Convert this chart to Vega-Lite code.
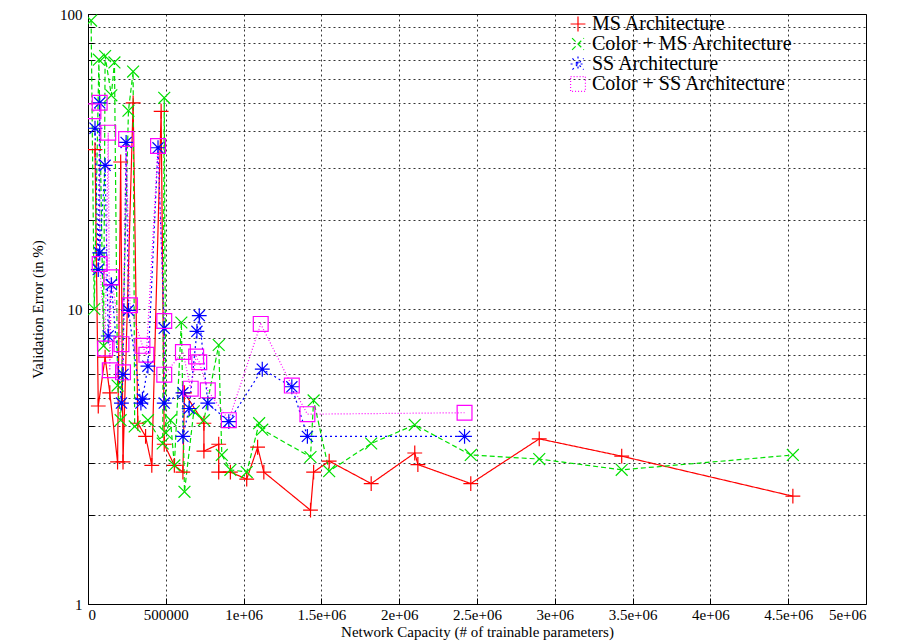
{
  "$schema": "https://vega.github.io/schema/vega-lite/v6.json",
  "width": 778,
  "height": 590,
  "autosize": "none",
  "padding": {"left": 88, "top": 14, "right": 34, "bottom": 37},
  "background": "white",
  "data": {"values": [
    {"s":"MS Architecture","x":0.045,"y":34.7},{"s":"MS Architecture","x":0.066,"y":4.69},{"s":"MS Architecture","x":0.11,"y":6.87},{"s":"MS Architecture","x":0.14,"y":5.2},{"s":"MS Architecture","x":0.19,"y":3.03},{"s":"MS Architecture","x":0.21,"y":31.5},{"s":"MS Architecture","x":0.225,"y":3.03},{"s":"MS Architecture","x":0.29,"y":50},{"s":"MS Architecture","x":0.32,"y":4.1},{"s":"MS Architecture","x":0.37,"y":3.7},{"s":"MS Architecture","x":0.41,"y":2.95},{"s":"MS Architecture","x":0.47,"y":46.8},{"s":"MS Architecture","x":0.49,"y":3.48},{"s":"MS Architecture","x":0.555,"y":2.95},{"s":"MS Architecture","x":0.61,"y":2.8},{"s":"MS Architecture","x":0.62,"y":5.2},{"s":"MS Architecture","x":0.745,"y":4.1},{"s":"MS Architecture","x":0.745,"y":3.3},{"s":"MS Architecture","x":0.84,"y":3.48},{"s":"MS Architecture","x":0.84,"y":2.8},{"s":"MS Architecture","x":0.915,"y":2.8},{"s":"MS Architecture","x":1.02,"y":2.65},{"s":"MS Architecture","x":1.09,"y":3.4},{"s":"MS Architecture","x":1.13,"y":2.8},{"s":"MS Architecture","x":1.43,"y":2.08},{"s":"MS Architecture","x":1.45,"y":2.8},{"s":"MS Architecture","x":1.55,"y":3.05},{"s":"MS Architecture","x":1.82,"y":2.56},{"s":"MS Architecture","x":2.1,"y":3.25},{"s":"MS Architecture","x":2.12,"y":2.97},{"s":"MS Architecture","x":2.46,"y":2.56},{"s":"MS Architecture","x":2.9,"y":3.63},{"s":"MS Architecture","x":3.43,"y":3.17},{"s":"MS Architecture","x":4.53,"y":2.32},
    {"s":"Color + MS Architecture","x":0.02,"y":95},{"s":"Color + MS Architecture","x":0.04,"y":10},{"s":"Color + MS Architecture","x":0.07,"y":70},{"s":"Color + MS Architecture","x":0.1,"y":7.5},{"s":"Color + MS Architecture","x":0.11,"y":72},{"s":"Color + MS Architecture","x":0.15,"y":53},{"s":"Color + MS Architecture","x":0.17,"y":68.5},{"s":"Color + MS Architecture","x":0.19,"y":5.5},{"s":"Color + MS Architecture","x":0.21,"y":4.2},{"s":"Color + MS Architecture","x":0.26,"y":47},{"s":"Color + MS Architecture","x":0.29,"y":63.8},{"s":"Color + MS Architecture","x":0.3,"y":4.0},{"s":"Color + MS Architecture","x":0.385,"y":4.2},{"s":"Color + MS Architecture","x":0.48,"y":3.5},{"s":"Color + MS Architecture","x":0.49,"y":52},{"s":"Color + MS Architecture","x":0.5,"y":3.8},{"s":"Color + MS Architecture","x":0.53,"y":4.2},{"s":"Color + MS Architecture","x":0.555,"y":2.95},{"s":"Color + MS Architecture","x":0.6,"y":9.0},{"s":"Color + MS Architecture","x":0.62,"y":2.4},{"s":"Color + MS Architecture","x":0.68,"y":4.5},{"s":"Color + MS Architecture","x":0.745,"y":4.2},{"s":"Color + MS Architecture","x":0.84,"y":7.55},{"s":"Color + MS Architecture","x":0.86,"y":3.2},{"s":"Color + MS Architecture","x":0.915,"y":2.85},{"s":"Color + MS Architecture","x":1.02,"y":2.8},{"s":"Color + MS Architecture","x":1.1,"y":4.1},{"s":"Color + MS Architecture","x":1.12,"y":3.9},{"s":"Color + MS Architecture","x":1.43,"y":3.15},{"s":"Color + MS Architecture","x":1.45,"y":4.9},{"s":"Color + MS Architecture","x":1.55,"y":2.82},{"s":"Color + MS Architecture","x":1.82,"y":3.5},{"s":"Color + MS Architecture","x":2.1,"y":4.05},{"s":"Color + MS Architecture","x":2.46,"y":3.2},{"s":"Color + MS Architecture","x":2.9,"y":3.1},{"s":"Color + MS Architecture","x":3.43,"y":2.85},{"s":"Color + MS Architecture","x":4.53,"y":3.2},
    {"s":"SS Architecture","x":0.045,"y":41},{"s":"SS Architecture","x":0.066,"y":13.6},{"s":"SS Architecture","x":0.075,"y":50},{"s":"SS Architecture","x":0.075,"y":15.5},{"s":"SS Architecture","x":0.11,"y":30.7},{"s":"SS Architecture","x":0.13,"y":8.1},{"s":"SS Architecture","x":0.15,"y":12.1},{"s":"SS Architecture","x":0.215,"y":4.8},{"s":"SS Architecture","x":0.225,"y":6.0},{"s":"SS Architecture","x":0.245,"y":36.7},{"s":"SS Architecture","x":0.26,"y":9.9},{"s":"SS Architecture","x":0.34,"y":4.8},{"s":"SS Architecture","x":0.35,"y":4.95},{"s":"SS Architecture","x":0.385,"y":6.4},{"s":"SS Architecture","x":0.45,"y":35.2},{"s":"SS Architecture","x":0.49,"y":8.6},{"s":"SS Architecture","x":0.49,"y":4.8},{"s":"SS Architecture","x":0.61,"y":5.2},{"s":"SS Architecture","x":0.61,"y":3.7},{"s":"SS Architecture","x":0.65,"y":4.6},{"s":"SS Architecture","x":0.7,"y":8.4},{"s":"SS Architecture","x":0.715,"y":9.5},{"s":"SS Architecture","x":0.77,"y":4.8},{"s":"SS Architecture","x":0.905,"y":4.15},{"s":"SS Architecture","x":1.12,"y":6.25},{"s":"SS Architecture","x":1.31,"y":5.45},{"s":"SS Architecture","x":1.41,"y":3.7},{"s":"SS Architecture","x":2.42,"y":3.7},
    {"s":"Color + SS Architecture","x":0.035,"y":46.8},{"s":"Color + SS Architecture","x":0.075,"y":50},{"s":"Color + SS Architecture","x":0.075,"y":14.2},{"s":"Color + SS Architecture","x":0.11,"y":7.35},{"s":"Color + SS Architecture","x":0.13,"y":39.6},{"s":"Color + SS Architecture","x":0.14,"y":6.2},{"s":"Color + SS Architecture","x":0.15,"y":12.8},{"s":"Color + SS Architecture","x":0.215,"y":7.6},{"s":"Color + SS Architecture","x":0.225,"y":6.1},{"s":"Color + SS Architecture","x":0.245,"y":37.7},{"s":"Color + SS Architecture","x":0.27,"y":10.3},{"s":"Color + SS Architecture","x":0.35,"y":7.5},{"s":"Color + SS Architecture","x":0.375,"y":7.0},{"s":"Color + SS Architecture","x":0.45,"y":35.7},{"s":"Color + SS Architecture","x":0.49,"y":9.1},{"s":"Color + SS Architecture","x":0.49,"y":5.99},{"s":"Color + SS Architecture","x":0.61,"y":7.15},{"s":"Color + SS Architecture","x":0.66,"y":5.37},{"s":"Color + SS Architecture","x":0.695,"y":6.9},{"s":"Color + SS Architecture","x":0.715,"y":6.6},{"s":"Color + SS Architecture","x":0.77,"y":5.3},{"s":"Color + SS Architecture","x":0.905,"y":4.2},{"s":"Color + SS Architecture","x":1.11,"y":8.9},{"s":"Color + SS Architecture","x":1.31,"y":5.5},{"s":"Color + SS Architecture","x":1.41,"y":4.4},{"s":"Color + SS Architecture","x":2.42,"y":4.45}
  ]},
  "transform": [
    {"window": [{"op": "row_number", "as": "i"}]}
  ],
  "encoding": {
    "x": {"field": "x", "type": "quantitative", "scale": {"domain": [0, 5], "nice": false},
      "axis": {"title": "Network Capacity (# of trainable parameters)", "values": [0,0.5,1,1.5,2,2.5,3,3.5,4,4.5,5],
        "labelExpr": "datum.value == 0 ? '0' : datum.value == 0.5 ? '500000' : format(datum.value, '') + 'e+06'",
        "grid": true, "gridColor": "black", "gridDash": [2, 3], "gridOpacity": 1, "gridWidth": 0.8,
        "tickSize": -6, "labelPadding": 9, "titlePadding": 2}},
    "y": {"field": "y", "type": "quantitative", "scale": {"type": "log", "domain": [1, 100], "nice": false},
      "axis": {"title": "Validation Error (in %)", "values": [1,2,3,4,5,6,7,8,9,10,20,30,40,50,60,70,80,90,100],
        "labelExpr": "datum.value == 1 || datum.value == 10 || datum.value == 100 ? datum.label : ''",
        "grid": true, "gridColor": "black", "gridDash": [2, 3], "gridOpacity": 1, "gridWidth": 0.8,
        "tickSize": -6, "labelPadding": 12, "titlePadding": 14}},
    "color": {"field": "s", "type": "nominal",
      "scale": {"domain": ["MS Architecture", "Color + MS Architecture", "SS Architecture", "Color + SS Architecture"], "range": ["#ff0000", "#00e000", "#0000ff", "#ff00ff"]},
      "legend": {"orient": "none", "legendX": 480, "legendY": 0, "title": null, "symbolSize": 220, "symbolStrokeWidth": 1.2, "labelFontSize": 20, "labelFont": "Liberation Serif", "rowPadding": 0, "labelLimit": 400}},
    "order": {"field": "i"}
  },
  "layer": [
    {"mark": {"type": "line", "strokeWidth": 1.2, "clip": true},
      "encoding": {"strokeDash": {"field": "s", "type": "nominal",
        "scale": {"domain": ["MS Architecture", "Color + MS Architecture", "SS Architecture", "Color + SS Architecture"], "range": [[1, 0], [5, 3], [2, 3], [1, 2]]}, "legend": null}}},
    {"mark": {"type": "point", "filled": false, "size": 220, "strokeWidth": 1.2, "opacity": 1, "clip": true},
      "encoding": {"shape": {"field": "s", "type": "nominal",
        "scale": {"domain": ["MS Architecture", "Color + MS Architecture", "SS Architecture", "Color + SS Architecture"],
          "range": ["M-1,0L1,0M0,-1L0,1", "M-0.8,-0.8L0.8,0.8M-0.8,0.8L0.8,-0.8", "M-1,0L1,0M0,-1L0,1M-0.75,-0.75L0.75,0.75M-0.75,0.75L0.75,-0.75", "square"]}}}}
  ],
  "config": {
    "font": "Liberation Serif",
    "view": {"stroke": "black", "strokeWidth": 1},
    "axis": {"labelFontSize": 15, "titleFontSize": 15, "labelColor": "black", "titleColor": "black", "titleFontWeight": "normal", "domainColor": "black", "tickColor": "black", "labelFont": "Liberation Serif", "titleFont": "Liberation Serif"}
  }
}
